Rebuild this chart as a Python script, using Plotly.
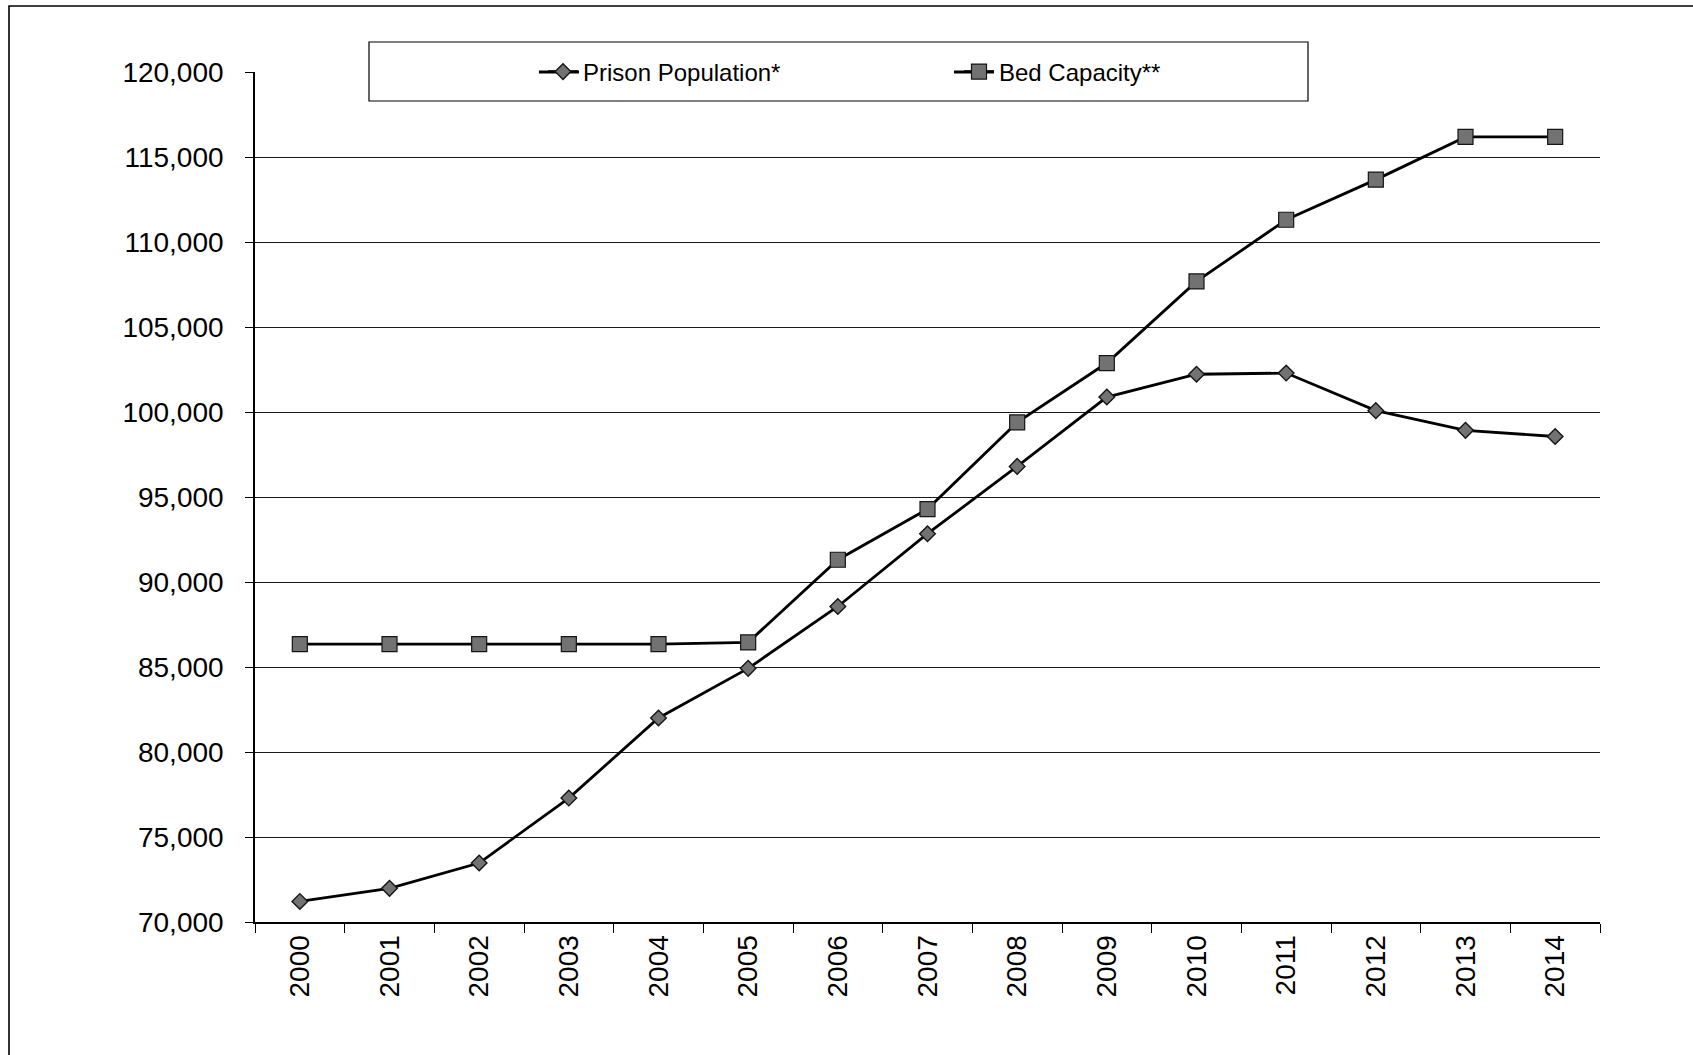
import plotly.graph_objects as go

# Fiscal years on the category axis
years = ["2000", "2001", "2002", "2003", "2004", "2005", "2006", "2007",
         "2008", "2009", "2010", "2011", "2012", "2013", "2014"]

# Year-end prison population
prison_population = [71210, 71980, 73470, 77290, 82000, 84920, 88560, 92840,
                     96800, 100880, 102220, 102290, 100080, 98920, 98560]

# Available bed capacity
bed_capacity = [86350, 86350, 86350, 86350, 86350, 86450, 91310, 94290,
                99390, 102880, 107680, 111310, 113670, 116180, 116180]

y_ticks = [70000, 75000, 80000, 85000, 90000, 95000, 100000, 105000,
           110000, 115000, 120000]

FONT = "Liberation Sans, Arial, sans-serif"
W, H = 1693, 1055
L, R, T, B = 255, 93, 72, 133
PW, PH = W - L - R, H - T - B


def px_x(px):
    return (px - L) / PW


def px_y(py):
    return (H - B - py) / PH


MARKER_FILL = "#727272"
MARKER_EDGE = "#151515"

fig = go.Figure()

fig.add_trace(go.Scatter(
    x=years, y=prison_population, name="Prison Population*",
    mode="lines+markers",
    line=dict(color="#000000", width=2.8),
    marker=dict(symbol="diamond", size=12, color=MARKER_FILL,
                line=dict(color=MARKER_EDGE, width=1.4)),
))

fig.add_trace(go.Scatter(
    x=years, y=bed_capacity, name="Bed Capacity**",
    mode="lines+markers",
    line=dict(color="#000000", width=2.8),
    marker=dict(symbol="square", size=15, color=MARKER_FILL,
                line=dict(color=MARKER_EDGE, width=1.2)),
))

LEG_Y = 72
LEG_X = 543          # left edge of the legend group (px)
ENTRY_W = 371        # spacing between legend entries (px)
TEXT1 = 583          # where the first legend label starts (px)
TEXT2 = TEXT1 + ENTRY_W + 44

shapes = [
    # outer frame (right and bottom edges fall outside the page)
    dict(type="rect", xref="paper", yref="paper",
         x0=px_x(9), x1=px_x(W + 20), y0=px_y(6), y1=px_y(H + 20),
         line=dict(color="#000000", width=1.6), layer="below"),
    # legend box
    dict(type="rect", xref="paper", yref="paper",
         x0=px_x(369), x1=px_x(1308), y0=px_y(42), y1=px_y(101),
         line=dict(color="#000000", width=1.2), fillcolor="#ffffff",
         layer="above"),
    # longer legend key lines
    dict(type="line", xref="paper", yref="paper",
         x0=px_x(TEXT1 - 44), x1=px_x(TEXT1 - 4),
         y0=px_y(LEG_Y), y1=px_y(LEG_Y),
         line=dict(color="#000000", width=2.8), layer="above"),
    dict(type="line", xref="paper", yref="paper",
         x0=px_x(TEXT2 - 44), x1=px_x(TEXT2 - 4),
         y0=px_y(LEG_Y), y1=px_y(LEG_Y),
         line=dict(color="#000000", width=2.8), layer="above"),
]

fig.update_layout(
    width=W, height=H,
    margin=dict(l=L, r=R, t=T, b=B),
    paper_bgcolor="#ffffff", plot_bgcolor="#ffffff",
    font=dict(family=FONT, color="#000000"),
    shapes=shapes,
    showlegend=True,
    legend=dict(
        orientation="h",
        x=px_x(LEG_X), xanchor="left",
        y=px_y(LEG_Y), yanchor="middle",
        bgcolor="rgba(0,0,0,0)", borderwidth=0,
        font=dict(family=FONT, size=24, color="#000000"),
        entrywidth=ENTRY_W, entrywidthmode="pixels",
        itemwidth=30,
    ),
    xaxis=dict(
        type="category",
        range=[-0.5, len(years) - 0.5],
        showgrid=False,
        showline=True, linecolor="#000000", linewidth=2,
        ticks="outside", tickson="boundaries", ticklen=9,
        tickcolor="#000000", tickwidth=1.3,
        tickangle=-90,
        tickfont=dict(family=FONT, size=28, color="#000000"),
        zeroline=False,
    ),
    yaxis=dict(
        range=[70000, 120000],
        tickvals=y_ticks,
        tickformat=",",
        showgrid=True, gridcolor="#1a1a1a", gridwidth=1.2,
        showline=True, linecolor="#000000", linewidth=1.6,
        ticks="outside", ticklen=8, tickcolor="#000000", tickwidth=1.3,
        tickfont=dict(family=FONT, size=28, color="#000000"),
        ticklabelstandoff=16,
        zeroline=False,
    ),
)

fig.write_html("out.html")
